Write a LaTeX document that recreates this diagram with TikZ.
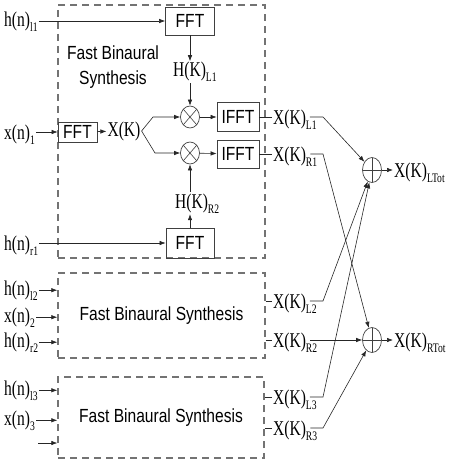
\documentclass[tikz,border=0pt]{standalone}
\usepackage{fontspec}
\setmainfont{Liberation Serif}[FakeStretch=0.74]
\setsansfont{Liberation Sans}[FakeStretch=0.82]
\usetikzlibrary{positioning,arrows.meta,shapes.geometric}
\newcommand{\lsub}[1]{\raisebox{-5pt}{\fontsize{13}{13}\selectfont #1}}
\tikzset{
  sig/.style={-{Latex[length=6pt,width=4.5pt]}, line width=0.6pt, draw=black!85},
  wire/.style={line width=0.6pt, draw=black!85},
  fftbox/.style={draw=black!75, line width=0.8pt, font=\sffamily\fontsize{19}{21}\selectfont, inner sep=0pt},
  fbsbox/.style={draw=black!55, line width=1.4pt, dash pattern=on 7pt off 5pt, font=\sffamily\fontsize{19}{21}\selectfont, inner sep=0pt},
  fbstext/.style={font=\sffamily\fontsize{19}{25}\selectfont, align=center, inner sep=1pt},
  sigl/.style={font=\fontsize{21}{24}\selectfont, inner sep=1pt, anchor=base west},
  mulnode/.style={ellipse, draw=black!75, line width=0.7pt, minimum width=19pt, minimum height=22pt, inner sep=0pt,
    path picture={\draw[line width=0.6pt] (path picture bounding box.north west) -- (path picture bounding box.south east)
      (path picture bounding box.south west) -- (path picture bounding box.north east);}},
  sumnode/.style={ellipse, draw=black!75, line width=0.7pt, minimum width=19pt, minimum height=25pt, inner sep=0pt,
    path picture={\draw[line width=0.6pt] (path picture bounding box.north) -- (path picture bounding box.south)
      (path picture bounding box.west) -- (path picture bounding box.east);}}
}

\begin{document}
\begin{tikzpicture}[x=1pt, y=-1pt, >=Latex]
\useasboundingbox (0,0) rectangle (448,460);

% dashed synthesis blocks
\node[fbsbox, minimum width=207pt, minimum height=253pt] (fbs1) at (161.5,131.5) {};
\node[fbsbox, minimum width=207pt, minimum height=85pt] (fbs2) at (161.5,315.5) {Fast Binaural Synthesis};
\node[fbsbox, minimum width=206pt, minimum height=81pt] (fbs3) at (161,417.5) {Fast Binaural Synthesis};
\node[fbstext] (fbsname) at (113,67) {Fast Binaural\\Synthesis};

% inputs
\node[sigl] (hl1) at (3,27) {h(n)\lsub{l1}};
\node[sigl] (xn1) at (3,139) {x(n)\lsub{1}};
\node[sigl] (hr1) at (3,250) {h(n)\lsub{r1}};
\node[sigl] (hl2) at (3,295) {h(n)\lsub{l2}};
\node[sigl] (xn2) at (3,322) {x(n)\lsub{2}};
\node[sigl] (hr2) at (3,347) {h(n)\lsub{r2}};
\node[sigl] (hl3) at (3,395) {h(n)\lsub{l3}};
\node[sigl] (xn3) at (3,425) {x(n)\lsub{3}};
\coordinate (in3) at (38,443);

% block 1
\node[fftbox, minimum width=49pt, minimum height=28pt] (fftl) at (190,21) {FFT};
\node[fftbox, minimum width=39pt, minimum height=20pt] (fftx) at (77.5,132) {FFT};
\node[fftbox, minimum width=48pt, minimum height=30pt] (fftr) at (190,243) {FFT};
\node[sigl] (hkl1) at (172,77) {H(K)\lsub{L1}};
\node[sigl] (hkr2) at (174,208) {H(K)\lsub{R2}};
\node[font=\fontsize{21}{24}\selectfont, inner sep=1pt] (xk) at (124,131) {X(K)};
\coordinate (kn1) at (153,117);
\coordinate (kn2) at (155,153);
\node[mulnode] (mul1) at (190,117) {};
\node[mulnode] (mul2) at (190,153) {};
\node[fftbox, minimum width=42pt, minimum height=29pt] (ifft1) at (238,117) {IFFT};
\node[fftbox, minimum width=42pt, minimum height=28pt] (ifft2) at (238,154) {IFFT};

% outputs of the blocks
\node[sigl] (xl1) at (272,124) {X(K)\lsub{L1}};
\node[sigl] (xr1) at (272,161) {X(K)\lsub{R1}};
\node[sigl] (xl2) at (272,308) {X(K)\lsub{L2}};
\node[sigl] (xr2) at (272,347) {X(K)\lsub{R2}};
\node[sigl] (xl3) at (272,404) {X(K)\lsub{L3}};
\node[sigl] (xr3) at (272,435) {X(K)\lsub{R3}};
\coordinate (ol1) at (323,117);
\coordinate (or1) at (323,154);
\coordinate (ol2) at (323,301);
\coordinate (or2) at (323,340);
\coordinate (ol3) at (323,397);
\coordinate (or3) at (323,428);

% summing
\node[sumnode] (sumL) at (372,170) {};
\node[sumnode] (sumR) at (372,340) {};
\node[sigl] (lt) at (393,177) {X(K)\lsub{LTot}};
\node[sigl] (rt) at (393,347) {X(K)\lsub{RTot}};

% connections
\draw[sig] (hl1.east |- fftl) -- (fftl);
\draw[sig] (xn1.east |- fftx) -- (fftx);
\draw[sig] (hr1.east |- fftr) -- (fftr);
\draw[sig] (hl2.east) -- (hl2.east -| fbs2.west);
\draw[sig] (xn2.east) -- (xn2.east -| fbs2.west);
\draw[sig] (hr2.east) -- (hr2.east -| fbs2.west);
\draw[sig] (hl3.east) -- (hl3.east -| fbs3.west);
\draw[sig] (xn3.east) -- (xn3.east -| fbs3.west);
\draw[sig] (in3) -- (in3 -| fbs3.west);

\draw[sig] (fftx) -- (xk);
\draw[sig] (xk.east) -- (kn1) -- (mul1);
\draw[sig] (xk.east) -- (kn2) -- (mul2);
\draw[sig] (fftl) -- (fftl |- hkl1.north);
\draw[sig] (hkl1.south -| mul1) -- (mul1);
\draw[sig] (fftr) -- (fftr |- hkr2.south);
\draw[sig] (hkr2.north -| mul2) -- (mul2);
\draw[sig] (mul1) -- (ifft1);
\draw[sig] (mul2) -- (ifft2);

\draw[wire] (ifft1) -- (ifft1 -| xl1.west);
\draw[wire] (ifft2) -- (ifft2 -| xr1.west);
\draw[wire] (fbs2.east |- ol2) -- (ol2 -| xl2.west);
\draw[wire] (fbs2.east |- or2) -- (or2 -| xr2.west);
\draw[wire] (fbs3.east |- ol3) -- (ol3 -| xl3.west);
\draw[wire] (fbs3.east |- or3) -- (or3 -| xr3.west);

\draw[sig] ([xshift=-8pt]xl1.east |- ol1) -- (ol1) -- (sumL);
\draw[sig] ([xshift=-8pt]xr1.east |- or1) -- (or1) -- (sumR);
\draw[sig] ([xshift=-8pt]xl2.east |- ol2) -- (ol2) -- (sumL);
\draw[sig] ([xshift=-8pt]xr2.east |- or2) -- (sumR);
\draw[sig] ([xshift=-8pt]xl3.east |- ol3) -- (ol3) -- (sumL);
\draw[sig] ([xshift=-8pt]xr3.east |- or3) -- (or3) -- (sumR);
\draw[sig] (sumL) -- (sumL -| lt.west);
\draw[sig] (sumR) -- (sumR -| rt.west);
\end{tikzpicture}
\end{document}
